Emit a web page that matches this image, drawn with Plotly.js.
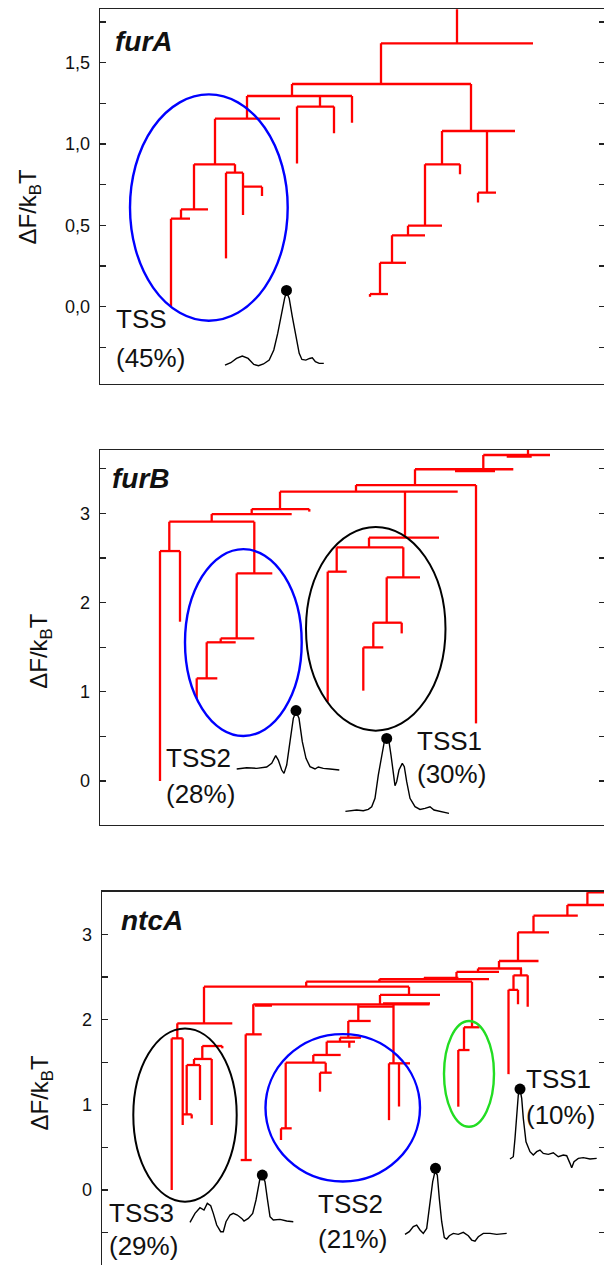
<!DOCTYPE html>
<html><head><meta charset="utf-8">
<script src="https://cdn.plot.ly/plotly-3.0.1.min.js"></script>
<style>html,body{margin:0;padding:0;overflow:hidden;background:#fff;width:604px;height:1265px}#chart{width:606px;height:1270px}</style>
</head><body><div id="chart"></div><script>
// ---------- furA ----------
const furA_vertical = [[457,1.9,1.619],[381,1.619,1.369],[292,1.369,1.295],[352,1.295,1.131],[320,1.295,1.230],[297,1.230,0.881],[334,1.230,1.066],[247,1.295,1.156],[215,1.156,0.875],[235,0.875,0.824],[226,0.824,0.297],[243,0.824,0.564],[262,0.738,0.680],[194,0.875,0.598],[181,0.598,0.541],[171,0.541,0.004],[471,1.369,1.080],[487,1.080,0.701],[478,0.701,0.641],[442,1.080,0.875],[460,0.875,0.814],[425,0.875,0.498],[408,0.498,0.439],[392,0.439,0.270],[380,0.270,0.078],[370,0.078,0.061]];
const furA_horizontal = [[1.619,381,533],[1.369,292,471],[1.295,247,352],[1.230,297,334],[1.156,215,280],[0.875,194,235],[0.824,226,243],[0.738,243,262],[0.598,181,208],[0.541,171,190],[1.080,442,515],[0.701,478,496],[0.875,425,460],[0.498,408,442],[0.439,392,425],[0.270,380,406],[0.078,370,388]];
const furA_peak_x = [225,230.8,236.5,242.3,248.1,253.8,258.5,263.5,269.2,273.8,277.7,281.5,284.6,286.5,289.2,292.3,296.2,299.2,301.9,305.8,309.6,312.3,315.4,319.2,323.8];
const furA_peak_y = [-0.359,-0.344,-0.318,-0.303,-0.318,-0.355,-0.363,-0.352,-0.328,-0.266,-0.164,-0.041,0.051,0.092,0.051,-0.061,-0.184,-0.287,-0.324,-0.328,-0.318,-0.314,-0.338,-0.348,-0.348];
const furA_dots_x = [286.5];
const furA_dots_y = [0.10];
const furA_blue_ellipse = [130,287.7,-0.086,1.305];
const furA_tickvals = [0,0.5,1,1.5];
const furA_ticktext = ['0,0','0,5','1,0','1,5'];
const furA_minorvals = [-0.25,0.25,0.75,1.25,1.75];

// ---------- furB ----------
const furB_vertical = [[160,2.578,0],[180,2.578,1.786],[169.3,2.907,2.578],[254.3,2.907,2.328],[236.7,2.328,1.599],[220.7,1.599,1.555],[206.7,1.555,1.151],[196.7,1.151,0.927],[211.7,2.993,2.907],[251.7,3.049,2.993],[309.3,3.049,3.02],[280,3.244,3.049],[356,3.318,3.244],[476,3.318,0.646],[405,3.244,2.728],[369,2.728,2.62],[336.7,2.62,2.347],[327.7,2.347,0.889],[403.3,2.62,2.283],[386.7,2.283,1.775],[401.7,1.775,1.655],[373.3,1.775,1.498],[363.3,1.498,1.013],[415,3.495,3.318],[483.3,3.655,3.495],[528,3.76,3.655]];
const furB_horizontal = [[2.578,160,180],[2.907,169.3,254.3],[2.328,236.7,272.3],[1.599,220.7,254.3],[1.555,206.7,235.7],[1.151,196.7,217.3],[2.993,211.7,291.7],[3.049,251.7,309.3],[3.244,280,457.7],[3.318,356,476],[2.728,369,439],[2.62,336.7,403.3],[2.347,327.7,346.7],[2.283,386.7,420],[1.775,373.3,401.7],[1.498,363.3,383.3],[3.495,415,513.3],[3.475,455,495],[3.655,483.3,550],[3.637,506.7,531.7]];
const furB_peak2_x = [236.7,246.7,256.7,266.7,271.7,275.7,278.3,281.7,284,286.7,290,293.3,296,299,302.3,306,310,315,318.3,323.3,330,339.3];
const furB_peak2_y = [0.135,0.149,0.142,0.157,0.198,0.284,0.235,0.123,0.086,0.179,0.441,0.703,0.777,0.703,0.441,0.254,0.161,0.135,0.157,0.142,0.135,0.123];
const furB_peak1_x = [345.4,350,356.7,363.3,368.3,371.7,375,378.3,381.7,384.3,386.7,389,391,393.3,395,396.7,399,402.3,404.3,406.7,410,415,420,425,430,434,438.3,443.3,449];
const furB_peak1_y = [-0.34,-0.336,-0.325,-0.333,-0.318,-0.288,-0.194,0.067,0.291,0.441,0.478,0.441,0.291,0.067,-0.052,-0.007,0.123,0.198,0.161,-0.007,-0.194,-0.288,-0.318,-0.306,-0.288,-0.325,-0.336,-0.344,-0.362];
const furB_dots_x = [296,386.7];
const furB_dots_y = [0.79,0.478];
const furB_blue_ellipse = [185,301.7,0.505,2.60];
const furB_black_ellipse = [306,445.5,0.565,2.848];
const furB_tickvals = [0,1,2,3];
const furB_ticktext = ['0','1','2','3'];
const furB_minorvals = [-0.5,0.5,1.5,2.5,3.5];

// ---------- ntcA ----------
const ntcA_vertical = [[171.7,1.78,0],[182.7,1.78,0.763],[177.3,1.956,1.78],[204,2.387,1.956],[186.7,1.467,0.888],[191.7,0.888,0.84],[200,1.467,1.056],[194,1.538,1.467],[211.7,1.538,0.763],[202.3,1.69,1.538],[222.3,1.69,1.663],
 [253.3,2.179,1.827],[245.7,1.827,0.352],
 [358.3,2.179,1.984],[348.3,1.984,1.788],[340,1.788,1.741],[349.3,1.741,1.67],[326.7,1.741,1.585],[313.3,1.585,1.494],[325.7,1.494,1.381],[320,1.377,1.154],[285.7,1.494,0.724],[281,0.724,0.587],[393.5,2.179,1.487],[389,1.487,0.82],[399,1.487,0.98],[409,2.387,2.29],[380,2.29,2.179],
 [306.2,2.445,2.387],[379.4,2.476,2.445],[424,2.49,2.476],[456.5,2.56,2.49],[478,2.60,2.56],[499,2.688,2.60],[518,3.024,2.688],[533.5,3.22,3.024],[567.4,3.345,3.22],[587.4,3.494,3.345],
 [472,2.445,1.91],[464,1.91,1.643],[458.3,1.643,0.978],
 [521,2.60,2.52],[527.7,2.52,2.15],[513.5,2.52,2.35],[518,2.35,2.18],[508.5,2.35,1.36]];
const ntcA_horizontal = [[1.78,171.7,182.7],[1.956,177.3,232.3],[2.387,204,409],[0.888,182.7,191.7],[1.467,186.7,200],[1.538,194,211.7],[1.69,202.3,222.3],
 [1.827,245.7,261.7],[0.352,240.7,251.7],[2.179,253.3,429.5],[2.165,255,272],[2.152,358.3,393.5],[1.984,348.3,370.7],[1.788,340,361],[1.741,326.7,355],[1.585,313.3,340.7],[1.494,285.7,325.7],[1.377,320,331.7],[0.724,281,291.7],[1.487,389,410],[2.29,380,440],[2.19,383,430],
 [2.445,306.2,472],[2.476,379.4,489],[2.49,424,458.4],[2.56,456.5,499],[2.60,478,522],[2.688,499,538.5],[3.024,518,549],[3.22,533.5,577.8],[3.345,567.4,604],[3.494,587.4,615],
 [1.91,464,479.5],[1.643,458.3,469.5],[2.52,513.5,527.7],[2.35,508.5,518]];
const ntcA_peak3_x = [190,195,200,204,207.3,210.7,213.3,216.7,220.7,223.3,226,230,233.3,237.3,241.7,244,248.3,252.7,256,258.3,260,262.3,265,267.3,270,273.3,280,286.7,293.3];
const ntcA_peak3_y = [-0.380,-0.274,-0.207,-0.235,-0.156,-0.184,-0.274,-0.411,-0.489,-0.489,-0.372,-0.293,-0.274,-0.293,-0.333,-0.364,-0.333,-0.274,-0.117,0.039,0.137,0.176,0.098,-0.098,-0.313,-0.352,-0.344,-0.364,-0.372];
const ntcA_peak2_x = [405,409.3,413.3,416.7,420,423.3,426.7,430,432.7,435,437.3,439.3,441.7,444.3,446.7,449.3,453.3,458.3,463.3,468.3,471.7,475,478.3,483.3,490,496.7,506.7];
const ntcA_peak2_y = [-0.520,-0.489,-0.430,-0.411,-0.469,-0.509,-0.450,-0.176,0.098,0.215,0.176,-0.098,-0.372,-0.559,-0.575,-0.536,-0.509,-0.520,-0.497,-0.536,-0.587,-0.599,-0.548,-0.509,-0.509,-0.520,-0.509];
const ntcA_peak1_x = [510,513.3,515,516.7,518.3,520,521.7,523.3,526,530,533.3,536.7,540,543.3,548.3,553.3,558.3,563.3,566.7,570,571.7,574,578.3,583.3,590,596.7];
const ntcA_peak1_y = [0.364,0.391,0.606,0.880,1.115,1.185,1.076,0.841,0.567,0.450,0.411,0.450,0.469,0.430,0.419,0.438,0.391,0.411,0.403,0.313,0.262,0.333,0.372,0.380,0.364,0.372];
const ntcA_dots_x = [262.3,435.5,520];
const ntcA_dots_y = [0.176,0.255,1.185];
const ntcA_black_ellipse = [133.3,236.7,-0.137,1.897];
const ntcA_blue_ellipse = [265.5,420,0.10,1.83];
const ntcA_green_ellipse = [444,494,0.743,1.984];
const ntcA_tickvals = [0,1,2,3];
const ntcA_ticktext = ['0','1','2','3'];
const ntcA_minorvals = [-0.5,0.5,1.5,2.5];

// ---------- build ----------
const W = 606, H = 1270;
const FONT = 'Liberation Sans, Arial, sans-serif';
const RED = '#ff0000';

function segs(vert, horz){
  const x=[], y=[];
  vert.forEach(v=>{x.push(v[0],v[0],null); y.push(v[1],v[2],null);});
  horz.forEach(h=>{x.push(h[1],h[2],null); y.push(h[0],h[0],null);});
  return {x,y};
}
const traces = [];
function addPanel(ax, ay, vert, horz, peaks, dx, dy){
  const s = segs(vert, horz);
  traces.push({type:'scatter', mode:'lines', x:s.x, y:s.y, xaxis:ax, yaxis:ay,
    line:{color:RED, width:2.3}, hoverinfo:'skip', showlegend:false});
  peaks.forEach(p=>traces.push({type:'scatter', mode:'lines', x:p[0], y:p[1], xaxis:ax, yaxis:ay,
    line:{color:'#000', width:1.4}, hoverinfo:'skip', showlegend:false}));
  traces.push({type:'scatter', mode:'markers', x:dx, y:dy, xaxis:ax, yaxis:ay,
    marker:{color:'#000', size:11}, hoverinfo:'skip', showlegend:false});
}
addPanel('x','y',furA_vertical,furA_horizontal,[[furA_peak_x,furA_peak_y]],furA_dots_x,furA_dots_y);
addPanel('x2','y2',furB_vertical,furB_horizontal,[[furB_peak2_x,furB_peak2_y],[furB_peak1_x,furB_peak1_y]],furB_dots_x,furB_dots_y);
addPanel('x3','y3',ntcA_vertical,ntcA_horizontal,[[ntcA_peak3_x,ntcA_peak3_y],[ntcA_peak2_x,ntcA_peak2_y],[ntcA_peak1_x,ntcA_peak1_y]],ntcA_dots_x,ntcA_dots_y);

function ell(xr, yr, e, color, w){
  return {type:'circle', xref:xr, yref:yr, x0:e[0], x1:e[1], y0:e[2], y1:e[3], line:{color:color, width:w}, fillcolor:'rgba(0,0,0,0)', layer:'above'};
}
const shapes = [
  ell('x','y',furA_blue_ellipse,'#0000ff',2.4),
  ell('x2','y2',furB_blue_ellipse,'#0000ff',2.4),
  ell('x2','y2',furB_black_ellipse,'#000',2),
  ell('x3','y3',ntcA_black_ellipse,'#000',2),
  ell('x3','y3',ntcA_blue_ellipse,'#0000ff',2.4),
  ell('x3','y3',ntcA_green_ellipse,'#22dd22',2.4)
];

function xa(left){
  return {domain:[left/W, 605/W], range:[left,605], showline:true, mirror:true, linecolor:'#222', linewidth:1.3,
    ticks:'', showticklabels:false, showgrid:false, zeroline:false, fixedrange:true};
}
function ya(top, bottom, range, tv, tt, mv){
  return {domain:[1-bottom/H, 1-top/H], range:range, showline:true, mirror:'ticks', linecolor:'#222', linewidth:1.3,
    tickmode:'array', tickvals:tv, ticktext:tt, ticks:'inside', ticklen:6, tickwidth:1.2, tickcolor:'#222',
    minor:{tickmode:'array', tickvals:mv, ticks:'inside', ticklen:6, tickwidth:1.2, tickcolor:'#222', showgrid:false},
    ticklabelstandoff:5, tickfont:{family:FONT, size:18, color:'#111'}, showgrid:false, zeroline:false, fixedrange:true};
}

const annotations = [];
function label(text, px, pyBase, size, extra){
  annotations.push(Object.assign({xref:'paper', yref:'paper', x:px/W, y:1-(pyBase-0.35*size)/H,
    xanchor:'left', yanchor:'middle', showarrow:false, borderpad:0, text:text,
    font:{family:FONT, size:size, color:'#111'}}, extra||{}));
}
function ytitle(cx, cy){
  annotations.push({xref:'paper', yref:'paper', x:cx/W, y:1-cy/H, xanchor:'center', yanchor:'middle',
    showarrow:false, textangle:-90, text:'ΔF/k<sub>B</sub>T', font:{family:FONT, size:24, color:'#111'}});
}
label('<b><i>furA</i></b>',114,51.7,28);
label('TSS',115,328.3,26); label('(45%)',115,366.7,26);
label('<b><i>furB</i></b>',111,488.3,28);
label('TSS2',165,766.7,26); label('(28%)',165,803.3,26);
label('TSS1',416,750,26); label('(30%)',416,783.3,26);
label('<b><i>ntcA</i></b>',120,930,28);
label('TSS3',108,1221.7,26); label('(29%)',108,1255,26);
label('TSS2',317,1212.7,26); label('(21%)',317,1248.3,26);
label('TSS1',525,1088.3,26); label('(10%)',525,1124.3,26);
ytitle(29,206.5); ytitle(41,650.8); ytitle(41,1092.5);

const layout = {
  width:W, height:H, margin:{l:0,r:0,t:0,b:0}, paper_bgcolor:'#fff', plot_bgcolor:'#fff', showlegend:false,
  xaxis:xa(100), xaxis2:xa(100), xaxis3:xa(102),
  yaxis:ya(9.3,384,[-0.475,1.828],furA_tickvals,furA_ticktext,furA_minorvals),
  yaxis2:ya(450,825,[-0.493,3.711],furB_tickvals,furB_ticktext,furB_minorvals),
  yaxis3:ya(891.7,1268,[-0.915,3.501],ntcA_tickvals,ntcA_ticktext,ntcA_minorvals),
  shapes:shapes, annotations:annotations
};
layout.yaxis.anchor='x'; layout.yaxis2.anchor='x2'; layout.yaxis3.anchor='x3';
layout.xaxis.anchor='y'; layout.xaxis2.anchor='y2'; layout.xaxis3.anchor='y3';
Plotly.newPlot('chart', traces, layout, {staticPlot:true, displayModeBar:false});
</script></body></html>
